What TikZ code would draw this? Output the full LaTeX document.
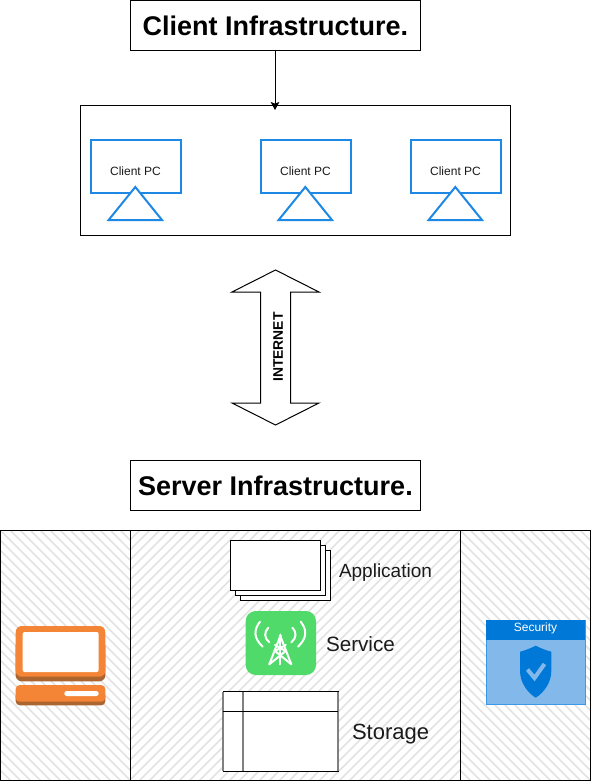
\documentclass[tikz,border=0pt]{standalone}
\usepackage{fontspec}
\setmainfont{Liberation Sans}
\usetikzlibrary{arrows.meta}
\definecolor{hatchc}{HTML}{E2E2E2}
\definecolor{bluec}{HTML}{1E88E5}
\definecolor{orangec}{HTML}{F58536}
\definecolor{orangedk}{HTML}{AD6530}
\definecolor{greenc}{HTML}{4FDA6A}
\definecolor{secdk}{HTML}{0078D7}
\definecolor{seclt}{HTML}{83B9EA}
\definecolor{txtc}{HTML}{1A1A1A}
\tikzset{
  px/.style={x=0.75pt,y=-0.75pt},
  plainbox/.style={draw=black,line width=0.75pt,fill=white,inner sep=0pt,outer sep=0pt},
  titlebox/.style={plainbox,minimum width=217.5pt,minimum height=37.5pt,font=\fontsize{20.25}{24}\selectfont\bfseries},
  monitor/.style={draw=bluec,line width=1.5pt,fill=white,minimum width=67.5pt,minimum height=39.5pt,inner sep=0pt,outer sep=0pt,font=\fontsize{9}{11}\selectfont,text=txtc},
  standbase/.style={draw=bluec,line width=1.5pt,fill=white,line join=miter},
  panelbox/.style={draw=black,line width=0.75pt,inner sep=0pt,outer sep=0pt,minimum height=187.5pt},
  hatchline/.style={draw=hatchc,line width=1.1pt},
  stackbox/.style={plainbox,minimum width=67.75pt,minimum height=37.75pt},
  lbl/.style={anchor=west,inner sep=0pt,outer sep=0pt,text=txtc},
  towerline/.style={color=white,line width=1.5pt,line cap=round}
}
\begin{document}
\begin{tikzpicture}[px]
\useasboundingbox (0,0) rectangle (591,781);
% hatching
\begin{scope}
  \clip (0.5,530.5) rectangle (130.5,780.5);
  \foreach \k in {-30,-20,...,390} {\draw[hatchline] (\k-260,530) -- (\k+0,790);}
\end{scope}
\begin{scope}
  \clip (130.5,530.5) rectangle (460.5,780.5);
  \foreach \k in {130,140,...,730} {\draw[hatchline] (\k,530) -- (\k-260,790);}
\end{scope}
\begin{scope}
  \clip (460.5,530.5) rectangle (590.5,780.5);
  \foreach \k in {460,470,...,860} {\draw[hatchline] (\k-260,530) -- (\k,790);}
\end{scope}
\node[panelbox,minimum width=97.5pt] (pleft) at (65.5,655.5) {};
\node[panelbox,minimum width=247.5pt] (pmid) at (295.5,655.5) {};
\node[panelbox,minimum width=97.5pt] (pright) at (525.5,655.5) {};
% titles
\node[titlebox] (tclient) at (275.5,25.5) {Client Infrastructure.};
\node[titlebox] (tserver) at (275.5,485.5) {Server Infrastructure.};
% client area
\node[plainbox,minimum width=322.5pt,minimum height=97.5pt] (clients) at (295.5,170.5) {};
\coordinate (arrowend) at (275,110);
\draw[line width=0.75pt,-{Stealth[length=6pt,width=6.5pt,inset=1.2pt]}] (tclient.south -| arrowend) -- (arrowend);
\node[monitor] (pc1) at (135.5,166.7) {\raisebox{-3pt}[\height][0pt]{Client PC}};
\node[monitor] (pc2) at (305.5,166.7) {\raisebox{-3pt}[\height][0pt]{Client PC}};
\node[monitor] (pc3) at (455.5,166.7) {\raisebox{-3pt}[\height][0pt]{Client PC}};
\draw[standbase] (135.3,187) -- (162,220) -- (108.6,220) -- cycle;
\draw[standbase] (305.3,187) -- (332,220) -- (278.6,220) -- cycle;
\draw[standbase] (455.3,187) -- (482,220) -- (428.6,220) -- cycle;
% internet arrow
\draw[line width=0.75pt,fill=white,line join=miter] (275.5,270) -- (319,292) -- (290.5,292) -- (290.5,403) -- (319,403) -- (275.5,425) -- (232,403) -- (260.5,403) -- (260.5,292) -- (232,292) -- cycle;
\node[rotate=90,inner sep=0pt,font=\fontsize{10.4}{12}\selectfont\bfseries] (inet) at (278,347) {INTERNET};
% stack
\node[stackbox] (s3) at (285.5,575.5) {};
\node[stackbox] (s2) at (280.5,570.5) {};
\node[stackbox] (s1) at (275.5,565.5) {};
\node[lbl,font=\fontsize{14.25}{17}\selectfont] (lapp) at (339,572.5) {Application};
% service
\fill[greenc,rounded corners=7.5pt] (245.7,611) rectangle (316,675);
\node[lbl,font=\fontsize{15.5}{18}\selectfont] (lsvc) at (326,644) {Service};
\draw[towerline] (260,621.7) .. controls (253.5,630) and (253.5,638) .. (262.7,646.7);
\draw[towerline] (268.3,627.7) .. controls (264,632) and (264,638) .. (269.3,642.3);
\draw[towerline] (300.7,621.7) .. controls (307.2,630) and (307.2,638) .. (298,646.7);
\draw[towerline] (292.4,627.7) .. controls (296.7,632) and (296.7,638) .. (291.4,642.3);
\draw[towerline] (269.3,664.3) -- (280.3,636) -- (291.3,664.3);
\draw[towerline] (280.3,636) -- (280.3,664.3);
\draw[towerline] (269.3,664.3) -- (285.7,651) -- (275,645);
\draw[towerline] (291.3,664.3) -- (275,651) -- (285.7,645);
\fill[white] (280.3,635.7) circle[radius=1.7];
% storage
\node[plainbox,minimum width=86.25pt,minimum height=59.6pt] (store) at (280.5,731.5) {};
\draw[draw=gray,line width=1.1pt] (store.north west) -- (store.south west);
\draw[draw=gray,line width=1.1pt] (store.north east) -- (store.south east);
\draw[draw=gray,line width=1.1pt] (store.north west -| 243,0) -- (store.south west -| 243,0);
\draw[line width=0.75pt] (store.west |- 0,711.3) -- (store.east |- 0,711.3);
\node[lbl,font=\fontsize{16.5}{20}\selectfont] (lsto) at (352,734) {Storage};
% computer
\fill[orangedk,rounded corners=4.5pt] (15.7,640) rectangle (105.3,681.3);
\fill[orangec,rounded corners=4.5pt] (15.7,626) rectangle (105.3,676.7);
\fill[white,rounded corners=1.5pt] (22.7,632) rectangle (98.7,672);
\fill[orangedk,rounded corners=3pt] (15.7,692) rectangle (105.3,705.3);
\fill[orangec,rounded corners=3pt] (15.7,685) rectangle (105.3,701.7);
\fill[white,rounded corners=1.8pt] (64.3,691) rectangle (98.7,696);
% security
\fill[seclt,draw=bluec!70!seclt,line width=0.75pt] (486,620.8) rectangle (585,704.6);
\fill[secdk] (485.6,620.4) rectangle (585.4,640);
\node[inner sep=0pt,font=\fontsize{9}{11}\selectfont,text=white] (lsec) at (535.5,628) {Security};
\fill[secdk] (535.7,645.7) .. controls (530,648.5) and (525,650.5) .. (520,651.7) -- (520,671) .. controls (520,683) and (528,693) .. (535.7,697.7) .. controls (543.4,693) and (551.3,683) .. (551.3,671) -- (551.3,651.7) .. controls (546.4,650.5) and (541.4,648.5) .. (535.7,645.7) -- cycle;
\draw[seclt,line width=3pt] (527.5,669.5) -- (534.5,678) -- (544.5,664);
\end{tikzpicture}
\end{document}
